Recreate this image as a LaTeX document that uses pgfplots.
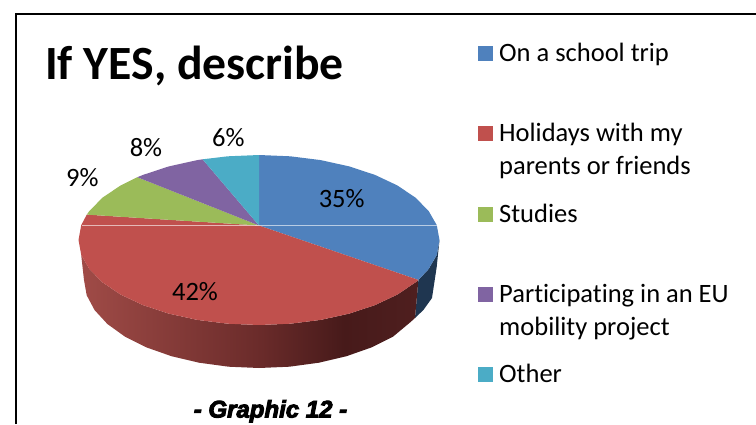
\documentclass[border=0pt]{standalone}
\usepackage{pgfplots}
\pgfplotsset{compat=1.18}
\usepackage{fontspec}
\setmainfont[Ligatures=NoCommon]{Carlito}
\newfontfamily\capfont[FakeBold=4]{Liberation Sans}
\definecolor{cblue}{HTML}{4F81BD}
\definecolor{cred}{HTML}{C0504D}
\definecolor{cgreen}{HTML}{9BBB59}
\definecolor{cpurple}{HTML}{8064A2}
\definecolor{ccyan}{HTML}{4BACC6}
\definecolor{sideblue}{HTML}{1F3650}
\definecolor{sr1}{HTML}{A04B47}
\definecolor{sr2}{HTML}{6A2B2A}
\definecolor{sr3}{HTML}{471A1A}
\definecolor{sr4}{HTML}{4F1F1F}
\pgfdeclarehorizontalshading{redside}{100bp}{color(0bp)=(sr1); color(25bp)=(sr1); color(51.6bp)=(sr2); color(64bp)=(sr3); color(75bp)=(sr4); color(100bp)=(sr4)}
\newcommand{\lab}[1]{\fontsize{26.5}{26.5}\selectfont #1}
\begin{document}
\begin{tikzpicture}
\clip (0,0) rectangle (756pt,424pt);
\begin{axis}[
  at={(0,0)}, anchor=south west,
  scale only axis, width=756pt, height=424pt,
  xmin=0, xmax=756, ymin=0, ymax=424, y dir=reverse,
  hide axis, no marks, clip=true,
]
% frame
\addplot[black, line width=2.5pt] coordinates {(16,424) (16,14) (756,14)};
% side of the pie
\addplot[draw=none, fill=sideblue] coordinates {
 (439.5,240) (436.8,254.8) (428.6,269.1) (418.4,279.9)
 (415,318) (423.4,310) (432,298) (436.7,267)} --cycle;
\addplot[draw=none, shade, shading=redside] coordinates {
 (418.4,279.9) (415.3,282.5) (397.3,294.6) (375.0,305.1) (349.3,313.6) (320.7,319.9) (290.3,323.7) (259,325)
 (227.7,323.7) (197.3,319.9) (168.8,313.6) (143.0,305.1) (120.7,294.6) (102.7,282.5) (89.4,269.1) (81.2,254.8)
 (84,280) (86.7,295.3) (94.6,310.1) (107.4,324) (124.9,336.6) (146.5,347.4) (171.5,356.2) (199.1,362.7) (228.6,366.7)
 (259,368) (289.4,366.7) (318.9,362.7) (346.5,356.2) (371.5,347.4) (393.1,336.6) (410.6,322) (415,318)} --cycle;
% top of the pie: On a school trip 35
\addplot[draw=none, fill=cblue] coordinates {
 (259,225.5) (259,155) (290.3,156.3) (320.7,160.1) (349.3,166.4) (375.0,174.9) (397.3,185.4) (415.3,197.5)
 (428.6,210.9) (436.8,225.2) (439.5,240) (436.8,254.8) (428.6,269.1) (418.4,279.9)} --cycle;
% Holidays 42
\addplot[draw=none, fill=cred] coordinates {
 (259,225.5) (418.4,279.9) (415.3,282.5) (397.3,294.6) (375.0,305.1) (349.3,313.6) (320.7,319.9) (290.3,323.7) (259,325)
 (227.7,323.7) (197.3,319.9) (168.8,313.6) (143.0,305.1) (120.7,294.6) (102.7,282.5) (89.4,269.1) (81.2,254.8)
 (78.5,240) (81.2,225.2) (86.8,214.6)} --cycle;
% Studies 9
\addplot[draw=none, fill=cgreen] coordinates {
 (259,225.5) (86.8,214.6) (89.4,210.9) (102.7,197.5) (120.7,185.4) (137.3,177.2)} --cycle;
% EU project 8
\addplot[draw=none, fill=cpurple] coordinates {
 (259,225.5) (137.3,177.2) (143.0,174.9) (168.8,166.4) (197.3,160.1) (202.6,159.3)} --cycle;
% Other 6
\addplot[draw=none, fill=ccyan] coordinates {
 (259,225.5) (202.6,159.3) (227.7,156.3) (259,155)} --cycle;
% light seam
\addplot[white, opacity=0.6, line width=0.8pt] coordinates {(81.5,225.5) (436.8,225.5)};
% legend swatches
\addplot[draw=none, fill=cblue] coordinates {(478.3,46) (493,46) (493,61) (478.3,61)} --cycle;
\addplot[draw=none, fill=cred] coordinates {(478.3,126) (493,126) (493,141) (478.3,141)} --cycle;
\addplot[draw=none, fill=cgreen] coordinates {(478.3,207) (493,207) (493,222) (478.3,222)} --cycle;
\addplot[draw=none, fill=cpurple] coordinates {(478.3,287) (493,287) (493,302) (478.3,302)} --cycle;
\addplot[draw=none, fill=ccyan] coordinates {(478.3,367) (493,367) (493,382) (478.3,382)} --cycle;
% legend text
\node[anchor=base west, inner sep=0pt] at (axis cs:499,61.5) {\lab{On a school trip}};
\node[anchor=base west, inner sep=0pt] at (axis cs:499,141.5) {\lab{Holidays with my}};
\node[anchor=base west, inner sep=0pt] at (axis cs:499,174.3) {\lab{parents or friends}};
\node[anchor=base west, inner sep=0pt] at (axis cs:499,222.5) {\lab{Studies}};
\node[anchor=base west, inner sep=0pt] at (axis cs:499,302.5) {\lab{Participating in an EU}};
\node[anchor=base west, inner sep=0pt] at (axis cs:499,335.3) {\lab{mobility project}};
\node[anchor=base west, inner sep=0pt] at (axis cs:499,382.5) {\lab{Other}};
% data labels
\node[inner sep=0pt] at (axis cs:341.7,198.2) {\lab{35\%}};
\node[inner sep=0pt] at (axis cs:195,291.7) {\lab{42\%}};
\node[inner sep=0pt] at (axis cs:82.3,177.2) {\lab{9\%}};
\node[inner sep=0pt] at (axis cs:146,147.8) {\lab{8\%}};
\node[inner sep=0pt] at (axis cs:228.3,137.2) {\lab{6\%}};
% title and caption
\node[anchor=base west, inner sep=0pt] at (axis cs:45,79) {\fontsize{47.7}{47.7}\selectfont\bfseries If YES, describe};
\node[anchor=base, inner sep=0pt] at (axis cs:270.5,417.5) {\capfont\bfseries\itshape\fontsize{24}{24}\selectfont - Graphic 12 -};
\end{axis}
\end{tikzpicture}
\end{document}
